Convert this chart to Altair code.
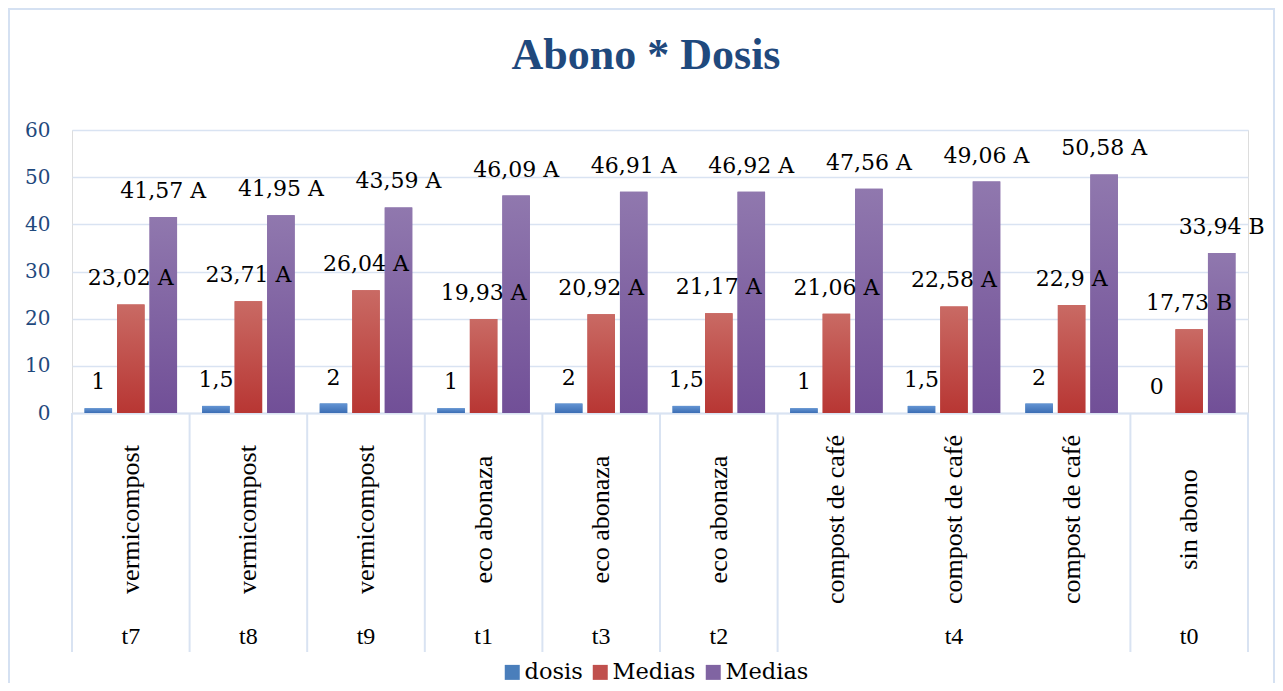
import json
import altair as alt
import pandas as pd

# ---------------- data ----------------
ids = [f"c{i:02d}" for i in range(1, 11)]
abono = ["vermicompost", "vermicompost", "vermicompost",
         "eco abonaza", "eco abonaza", "eco abonaza",
         "compost de café", "compost de café", "compost de café",
         "sin abono"]
tratamiento = ["t7", "t8", "t9", "t1", "t3", "t2", "t4", "t4", "t4", "t0"]
dosis = [1, 1.5, 2, 1, 2, 1.5, 1, 1.5, 2, 0]
medias_1 = [23.02, 23.71, 26.04, 19.93, 20.92, 21.17, 21.06, 22.58, 22.90, 17.73]
letras_1 = ["A", "A", "A", "A", "A", "A", "A", "A", "A", "B"]
medias_2 = [41.57, 41.95, 43.59, 46.09, 46.91, 46.92, 47.56, 49.06, 50.58, 33.94]
letras_2 = ["A", "A", "A", "A", "A", "A", "A", "A", "A", "B"]
series_keys = ["s1", "s2", "s3"]
series_names = ["dosis", "Medias", "Medias"]
y_ticks = [0, 10, 20, 30, 40, 50, 60]


def fmt(v):
    s = f"{v:.2f}".rstrip("0").rstrip(".")
    return s.replace(".", ",")


rows = []
for k in range(10):
    rows.append({"id": ids[k], "serie": "s1", "value": dosis[k], "label": fmt(dosis[k])})
    rows.append({"id": ids[k], "serie": "s2", "value": medias_1[k],
                 "label": f"{fmt(medias_1[k])} {letras_1[k]}"})
    rows.append({"id": ids[k], "serie": "s3", "value": medias_2[k],
                 "label": f"{fmt(medias_2[k])} {letras_2[k]}"})
df = pd.DataFrame(rows)
cats = pd.DataFrame({"id": ids})

# second-level labels: one per run of equal treatment, placed on its middle column
t_axis = [""] * 10
run_starts = []
i = 0
while i < 10:
    j = i
    while j + 1 < 10 and tratamiento[j + 1] == tratamiento[i]:
        j += 1
    t_axis[(i + j) // 2] = tratamiento[i]
    run_starts.append(ids[i])
    i = j + 1

ids_js = json.dumps(ids)
abono_js = json.dumps(abono)
t_js = json.dumps(t_axis)
keys_js = json.dumps(series_keys)
names_js = json.dumps(series_names)

# ---------------- styling ----------------
SERIF = "Liberation Serif"
WIDE = "DejaVu Serif"
GRID = "#D9E3F2"
AXBLUE = "#1F497D"
solid = ["#4A7EBB", "#C0504D", "#8064A2"]
grads = [
    alt.Gradient(gradient="linear", x1=0, y1=0, x2=0, y2=1,
                 stops=[alt.GradientStop(color="#6394D3", offset=0),
                        alt.GradientStop(color="#3C6EB4", offset=1)]),
    alt.Gradient(gradient="linear", x1=0, y1=0, x2=0, y2=1,
                 stops=[alt.GradientStop(color="#C96A64", offset=0),
                        alt.GradientStop(color="#B83633", offset=1)]),
    alt.Gradient(gradient="linear", x1=0, y1=0, x2=0, y2=1,
                 stops=[alt.GradientStop(color="#9078AE", offset=0),
                        alt.GradientStop(color="#714F97", offset=1)]),
]

W, H = 1176, 283

x_scale = alt.Scale(domain=ids, paddingInner=0, paddingOuter=0)
xo = alt.XOffset("serie:N", scale=alt.Scale(domain=series_keys, paddingInner=0.154, paddingOuter=0.386))
y_axis = alt.Axis(values=y_ticks, grid=True, gridColor=GRID, gridWidth=1.6, domain=False, ticks=False,
                  labelColor=AXBLUE, labelFont=WIDE, labelFontSize=20, labelPadding=22,
                  labelAlign="right", labelBaseline="middle", title=None)
y_enc = alt.Y("value:Q", scale=alt.Scale(domain=[0, 60], nice=False), axis=y_axis)

# level 1: fertiliser names, rotated
axis_a = alt.Axis(orient="bottom", title=None, labelExpr=f"{abono_js}[indexof({ids_js}, datum.value)]",
                  labelAngle=270, labelAlign="center", labelBaseline="middle", labelPadding=106,
                  labelFont=SERIF, labelFontSize=26, labelColor="black", labelLimit=400,
                  labelOverlap=False, ticks=False, domain=True, domainColor=GRID, domainWidth=2,
                  grid=False)
# level 2: treatment codes
axis_b = alt.Axis(orient="bottom", title=None, labelExpr=f"{t_js}[indexof({ids_js}, datum.value)]",
                  labelAngle=0, labelAlign="center", labelBaseline="middle", labelPadding=223,
                  labelFont=SERIF, labelFontSize=24, labelColor="black", labelOverlap=False,
                  ticks=False, domain=False, grid=False)

legend_bars = alt.Chart(df).mark_bar().encode(
    x=alt.X("id:N", scale=x_scale, axis=axis_a),
    xOffset=xo,
    y=y_enc,
    color=alt.Color("serie:N", scale=alt.Scale(domain=series_keys, range=solid),
                    legend=alt.Legend(orient="none", legendX=429, legendY=531, direction="horizontal",
                                      title=None, symbolType="square", symbolSize=225,
                                      symbolStrokeWidth=0, labelFont=WIDE, labelFontSize=22.5,
                                      labelColor="black", labelOffset=1, columnPadding=6,
                                      labelExpr=f"{names_js}[indexof({keys_js}, datum.value)]")),
)

grad_layers = []
for key, g in zip(series_keys, grads):
    grad_layers.append(
        alt.Chart(df).transform_filter(alt.datum.serie == key).mark_bar(color=g).encode(
            x=alt.X("id:N", scale=x_scale, axis=None),
            xOffset=xo,
            y=y_enc,
        )
    )

labels = alt.Chart(df).mark_text(font=WIDE, fontSize=22, baseline="middle", dy=-26, color="black").encode(
    x=alt.X("id:N", scale=x_scale, axis=None),
    xOffset=xo,
    y=y_enc,
    text="label:N",
)

level2 = alt.Chart(cats).mark_point(opacity=0).encode(
    x=alt.X("id:N", scale=x_scale, axis=axis_b),
)

# group dividers below the axis: at the start of each treatment run and at the end
div_start = alt.Chart(pd.DataFrame({"id": run_starts})).mark_rule(color=GRID, strokeWidth=2).encode(
    x=alt.X("id:N", scale=x_scale, axis=None, bandPosition=0),
    y=alt.value(H), y2=alt.value(H + 239),
)
div_end = alt.Chart(pd.DataFrame({"id": ids[-1:]})).mark_rule(color=GRID, strokeWidth=2).encode(
    x=alt.X("id:N", scale=x_scale, axis=None, bandPosition=1),
    y=alt.value(H), y2=alt.value(H + 239),
)

# outer chart frame (decoration)
frame = alt.Chart(cats.head(1)).mark_rect(fill="transparent", stroke="#D5E1F2", strokeWidth=2).encode(
    x=alt.value(-63), x2=alt.value(W + 26), y=alt.value(-121), y2=alt.value(H + 300),
)

chart = alt.layer(frame, legend_bars, *grad_layers, labels, level2, div_start, div_end).resolve_axis(
    x="independent"
).properties(
    width=W, height=H,
    autosize=alt.AutoSizeParams(type="none"),
    padding={"left": 64, "top": 122, "right": 27, "bottom": 270},
    title=alt.TitleParams("Abono * Dosis", font=SERIF, fontSize=44, fontWeight="bold", color=AXBLUE,
                          anchor="middle", frame="group", offset=-70, dx=-14),
).configure_view(stroke=None).configure(background="white")

chart.save("out.html", embed_options={"renderer": "svg", "actions": False})
